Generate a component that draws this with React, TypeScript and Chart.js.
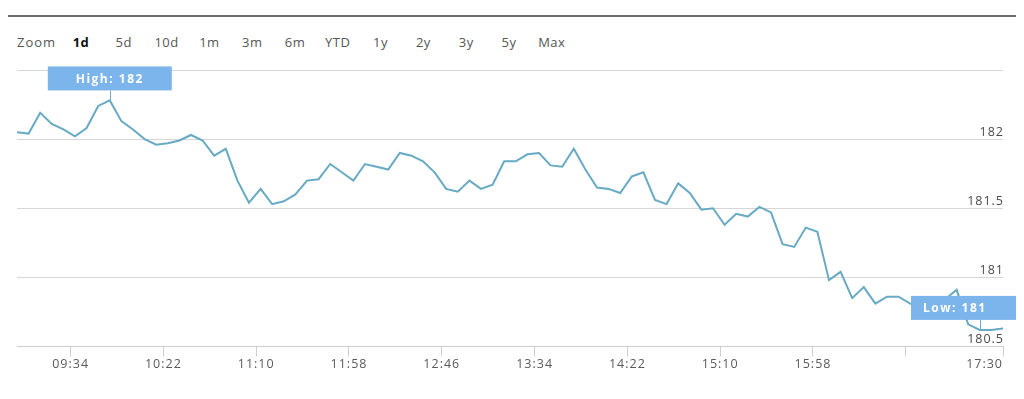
import React, { useEffect, useRef } from 'react';
import { Chart, registerables } from 'chart.js';

Chart.register(...registerables);

// ---- data ----
const prices: number[] = [
  182.05, 182.04, 182.19, 182.11, 182.07, 182.02, 182.08, 182.24, 182.28, 182.13,
  182.07, 182.0, 181.96, 181.97, 181.99, 182.03, 181.99, 181.88, 181.93, 181.7,
  181.54, 181.64, 181.53, 181.55, 181.6, 181.7, 181.71, 181.82, 181.76, 181.7,
  181.82, 181.8, 181.78, 181.9, 181.88, 181.84, 181.76, 181.64, 181.62, 181.7,
  181.64, 181.67, 181.84, 181.84, 181.89, 181.9, 181.81, 181.8, 181.93, 181.78,
  181.65, 181.64, 181.61, 181.73, 181.76, 181.56, 181.53, 181.68, 181.61, 181.49,
  181.5, 181.38, 181.46, 181.44, 181.51, 181.47, 181.24, 181.22, 181.36, 181.33,
  180.98, 181.04, 180.85, 180.93, 180.81, 180.86, 180.86, 180.81, 180.78, 180.8,
  180.84, 180.91, 180.66, 180.62, 180.62, 180.63,
];
const tickLabels: string[] = ['', '09:34', '10:22', '11:10', '11:58', '12:46', '13:34', '14:22', '15:10', '15:58', '', '17:30'];
const tickIndex: number[] = [0, 4.62, 12.62, 20.62, 28.62, 36.62, 44.62, 52.62, 60.62, 68.62, 76.62, 85];
const yTicks: number[] = [180.5, 181, 181.5, 182, 182.5];
const rangeButtons: string[] = ['1d', '5d', '10d', '1m', '3m', '6m', 'YTD', '1y', '2y', '3y', '5y', 'Max'];
const selectedRange = '1d';

// ---- styles ----
const FONT = '"Open Sans", sans-serif';
const LINE_COLOR = '#68a9c4';
const FLAG_COLOR = '#7cb5ec';

const flagsPlugin = {
  id: 'flags',
  beforeLayout(chart: any) {
    chart.ctx.letterSpacing = '1px';
  },
  beforeDraw(chart: any) {
    chart.ctx.letterSpacing = '1px';
  },
  afterDraw(chart: any) {
    const ctx = chart.ctx;
    const meta = chart.getDatasetMeta(0);
    const hi = prices.indexOf(Math.max(...prices));
    const lo = prices.indexOf(Math.min(...prices));
    const drawFlag = (idx: number, text: string, w: number) => {
      const pt = meta.data[idx];
      const h = 24;
      const gap = 10;
      let left = pt.x - w / 2;
      let clamped = false;
      if (left + w > chart.width) { left = chart.width - w; clamped = true; }
      if (left < 0) { left = 0; clamped = true; }
      const top = pt.y - gap - h;
      ctx.save();
      ctx.strokeStyle = '#6fa8d6';
      ctx.lineWidth = 1;
      ctx.beginPath();
      ctx.moveTo(Math.round(pt.x) + 0.5, top + h);
      ctx.lineTo(Math.round(pt.x) + 0.5, pt.y);
      ctx.stroke();
      ctx.fillStyle = FLAG_COLOR;
      ctx.fillRect(left, top, w, h);
      ctx.fillStyle = '#ffffff';
      ctx.font = `bold 12px ${FONT}`;
      (ctx as any).letterSpacing = '1.5px';
      ctx.textBaseline = 'middle';
      if (clamped) {
        ctx.textAlign = 'left';
        ctx.fillText(text, left + 12, top + h / 2 + 1);
      } else {
        ctx.textAlign = 'center';
        ctx.fillText(text, left + w / 2, top + h / 2 + 1);
      }
      ctx.restore();
    };
    drawFlag(hi, 'High: ' + Math.round(prices[hi]), 124);
    drawFlag(lo, 'Low: ' + Math.round(prices[lo]), 105);
  },
};

function PriceChart() {
  const ref = useRef<HTMLCanvasElement | null>(null);
  useEffect(() => {
    if (!ref.current) return;
    const chart = new Chart(ref.current, {
      type: 'line',
      data: {
        datasets: [
          {
            data: prices.map((v, i) => ({ x: i, y: v })),
            borderColor: LINE_COLOR,
            borderWidth: 2,
            pointRadius: 0,
            tension: 0,
            fill: false,
          },
        ],
      },
      options: {
        animation: false,
        responsive: false,
        events: [],
        layout: { padding: { left: 9, right: 11, top: 12, bottom: 7.5 } },
        plugins: { legend: { display: false }, tooltip: { enabled: false } },
        scales: {
          x: {
            type: 'linear',
            min: 0,
            max: prices.length - 1,
            afterBuildTicks: (s: any) => {
              s.ticks = tickIndex.map((v) => ({ value: v }));
            },
            ticks: {
              autoSkip: false,
              maxRotation: 0,
              align: 'inner',
              padding: 0.5,
              color: '#5a5a5a',
              font: { family: FONT, size: 12.5 },
              callback: (_v: any, i: number) => tickLabels[i],
            },
            grid: {
              drawOnChartArea: false,
              drawTicks: true,
              tickLength: 10,
              tickColor: (c: any) => (c.index === 0 ? 'rgba(0,0,0,0)' : '#cfcfcf'),
            },
            border: { display: true, color: '#cfcfcf', width: 1 },
          },
          y: {
            type: 'linear',
            position: 'right',
            min: yTicks[0],
            max: yTicks[yTicks.length - 1],
            afterBuildTicks: (s: any) => {
              s.ticks = yTicks.map((v) => ({ value: v }));
            },
            ticks: {
              mirror: true,
              padding: 1,
              labelOffset: -7,
              color: '#4a4a4a',
              font: { family: FONT, size: 12.5 },
              callback: (v: any) => (v === yTicks[yTicks.length - 1] ? '' : String(v)),
            },
            grid: { color: '#d6d6d6', drawTicks: false, lineWidth: 1 },
            border: { display: false },
          },
        },
      } as any,
      plugins: [flagsPlugin as any],
    });
    return () => chart.destroy();
  }, []);
  return (
    <canvas
      ref={ref}
      width={1008}
      height={322}
      style={{ position: 'absolute', left: 0, top: 50, width: 1008, height: 322 }}
    />
  );
}

export default function App() {
  return (
    <div style={{ position: 'relative', width: 1008, height: 380, fontFamily: FONT }}>
      <div style={{ position: 'absolute', left: -3, top: 7, width: 1013, height: 2, background: '#6b6b6b' }} />
      <span
        style={{ position: 'absolute', left: 9, top: 25, lineHeight: '18px', fontSize: 13, color: '#555', letterSpacing: '1px' }}
      >
        Zoom
      </span>
      {rangeButtons.map((b, i) => (
        <span
          key={b}
          style={{
            position: 'absolute',
            left: 73 + i * 42.8 - 21.4,
            width: 42.8,
            top: 25,
            lineHeight: '18px',
            fontSize: 13,
            textAlign: 'center',
            letterSpacing: '0.5px',
            color: b === selectedRange ? '#111' : '#555',
            fontWeight: b === selectedRange ? 700 : 400,
          }}
        >
          {b}
        </span>
      ))}
      <PriceChart />
    </div>
  );
}
